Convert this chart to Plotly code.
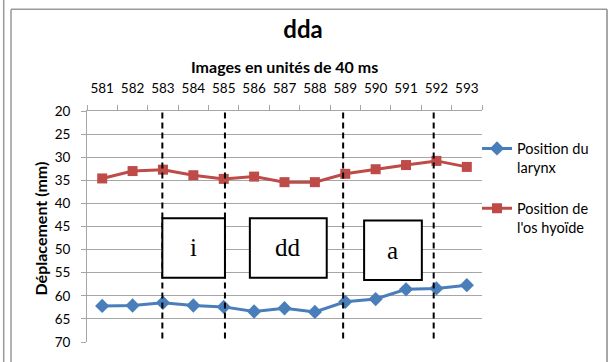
import plotly.graph_objects as go

# Frame numbers (40 ms units)
frames = ["581", "582", "583", "584", "585", "586", "587", "588", "589", "590", "591", "592", "593"]

# Displacement (mm)
larynx = [62.2, 62.1, 61.5, 62.1, 62.4, 63.4, 62.7, 63.5, 61.3, 60.7, 58.6, 58.4, 57.7]
hyoid = [34.6, 33.0, 32.7, 33.9, 34.7, 34.2, 35.4, 35.4, 33.6, 32.6, 31.7, 30.8, 32.1]

y_ticks = [20, 25, 30, 35, 40, 45, 50, 55, 60, 65, 70]

# Segment boxes: (label, x0, x1, y0, y1) in category-index / mm units
segments = [
    ("i", 1.98, 4.04, 43.2, 56.1),
    ("dd", 4.86, 7.39, 43.2, 56.1),
    ("a", 8.62, 10.52, 43.7, 56.6),
]
# Segment boundaries (category index)
boundaries = [1.98, 4.04, 7.93, 10.91]

W, H = 608, 362
L, R, T, B = 87, 482, 111, 347


def px(x):
    return (x - L) / (R - L)


def py(y):
    return (B - y) / (B - T)


font_main = "Lato, Carlito, Calibri, sans-serif"
grid_col = "#a6a6a6"
blue = "#4A7EBB"
red = "#BE4B48"

fig = go.Figure()
fig.add_trace(go.Scatter(
    x=frames, y=larynx, mode="lines+markers", name="Position du<br>larynx",
    legendgroup="larynx",
    line=dict(color=blue, width=3),
    marker=dict(symbol="diamond", size=11, color=blue),
))
fig.add_trace(go.Scatter(
    x=frames, y=hyoid, mode="lines+markers", name="Position de<br>l'os hyoïde",
    legendgroup="hyoid",
    line=dict(color=red, width=3),
    marker=dict(symbol="square", size=10, color=red),
))

shapes = []
# chart border
border = dict(color="#9a9a9a", width=1.5)
shapes.append(dict(type="line", xref="paper", yref="paper",
                   x0=px(11), x1=px(11), y0=py(7), y1=py(370), line=border))
shapes.append(dict(type="line", xref="paper", yref="paper",
                   x0=px(11), x1=px(607), y0=py(7), y1=py(7), line=border))
shapes.append(dict(type="line", xref="paper", yref="paper",
                   x0=px(607), x1=px(607), y0=py(7), y1=py(370),
                   line=dict(color="#8a8a8a", width=1.5)))
shapes.append(dict(type="line", xref="paper", yref="paper",
                   x0=px(3.7), x1=px(3.7), y0=py(-5), y1=py(370), line=border))

# dashed segment boundaries
for b in boundaries:
    shapes.append(dict(type="line", xref="x", yref="y", x0=b, x1=b, y0=20.3, y1=69.4,
                       line=dict(color="black", width=2, dash="6px,4px"), layer="above"))

annotations = []
for label, x0, x1, y0, y1 in segments:
    shapes.append(dict(type="rect", xref="x", yref="y", x0=x0, x1=x1, y0=y0, y1=y1,
                       fillcolor="white", line=dict(color="black", width=2), layer="above"))
    annotations.append(dict(x=(x0 + x1) / 2, y=(y0 + y1) / 2, xref="x", yref="y",
                            text=label, showarrow=False, xanchor="center", yanchor="middle",
                            font=dict(family="Liberation Serif, Times New Roman, serif",
                                      size=25, color="black")))

annotations.append(dict(x=px(284), y=py(66), xref="paper", yref="paper",
                        text="<b>Images en unités de 40 ms</b>", showarrow=False,
                        xanchor="center", yanchor="middle",
                        font=dict(family=font_main, size=16, color="black")))
annotations.append(dict(x=px(40), y=py(231), xref="paper", yref="paper",
                        text="<b>Déplacement (mm)</b>", showarrow=False, textangle=-90,
                        xanchor="center", yanchor="middle",
                        font=dict(family=font_main, size=16, color="black")))

fig.update_layout(
    width=W, height=H,
    margin=dict(l=L, r=W - R, t=T, b=H - B, pad=0),
    paper_bgcolor="white", plot_bgcolor="white",
    title=dict(text="<b>dda</b>", x=303 / W, xanchor="center",
               y=1 - 30 / H, yanchor="middle", yref="container",
               font=dict(family=font_main, size=24, color="black")),
    font=dict(family=font_main, size=13, color="black"),
    showlegend=True,
    legend=dict(x=px(477), y=py(133), xanchor="left", yanchor="top",
                font=dict(family=font_main, size=14.5, color="black"),
                valign="top", traceorder="grouped", tracegroupgap=19, itemwidth=30,
                bgcolor="rgba(0,0,0,0)"),
    shapes=shapes,
    annotations=annotations,
)

fig.update_xaxes(
    type="category", side="top", tickson="boundaries", tickangle=0,
    ticks="outside", ticklen=5, tickcolor=grid_col,
    showline=True, linecolor=grid_col, linewidth=1,
    showgrid=False, zeroline=False,
    tickfont=dict(family=font_main, size=13.5, color="black"),
    ticklabelstandoff=12,
    range=[-0.5, 12.5],
)
fig.update_yaxes(
    range=[70, 20], tickvals=y_ticks,
    ticks="outside", ticklen=5, tickcolor=grid_col,
    showline=True, linecolor=grid_col, linewidth=1,
    showgrid=True, gridcolor=grid_col, gridwidth=1, zeroline=False,
    tickfont=dict(family=font_main, size=13.5, color="black"),
    ticklabelstandoff=8,
)

fig.write_html("out.html")
